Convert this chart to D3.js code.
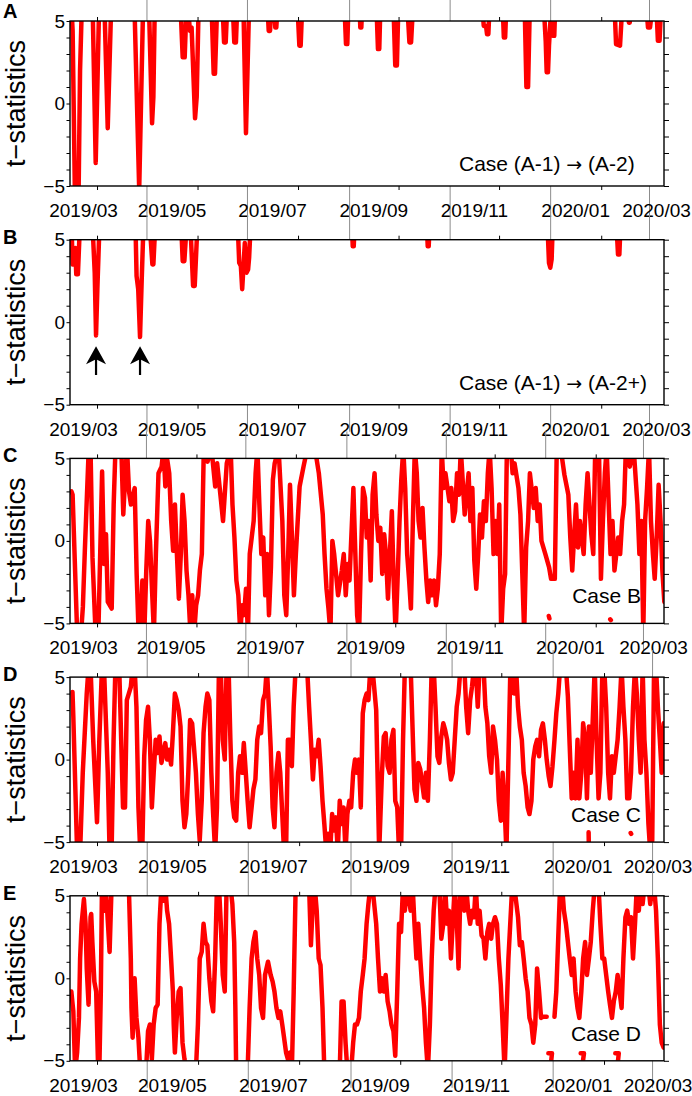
<!DOCTYPE html>
<html>
<head>
<meta charset="utf-8">
<script src="https://d3js.org/d3.v7.min.js"></script>
<style>
  body { margin: 0; background: #fff; }
  svg text { font-family: "Liberation Sans", Arial, Helvetica, sans-serif; fill: #000; }
  .axis text { font-size: 19px; font-family: "Liberation Sans", Arial, sans-serif; }
  .ylabel { font-size: 27px; }
  .letter { font-size: 20px; font-weight: bold; }
  .case { font-size: 21px; }
  .case .arrow { font-family: "DejaVu Sans", sans-serif; font-size: 19px; }
</style>
</head>
<body>
<div id="chart"></div>
<script>
// t-statistics per case, [days after 2019-03-01, t]. Values beyond +-5 run off the frame,
// null breaks the trace (isolated samples near the floor follow a null).
const caseA1A2 = [
  [15.6,5.6],[16.2,4.4],[17.6,-5.6],[19.8,-5.6],[20.7,2.0],[21.7,5.6],
  [28.4,5.6],[30.2,-3.6],[32.2,5.6],
  [35.6,5.6],[37.5,-1.5],[39.5,5.6],
  [53.8,5.6],[56.6,-5.2],[58.9,5.6],
  [62.6,5.6],[64.4,-1.2],[65.2,0.4],[66.0,5.6],
  [81.8,5.6],[83.0,2.8],[84.2,2.8],[85.2,5.6],
  [86.4,5.6],[87.4,4.4],[88.4,4.6],[90.5,-0.9],[91.5,0.4],[92.6,5.6],
  [100.6,5.6],[101.8,1.8],[102.6,1.8],[103.8,5.6],
  [107.3,5.6],[108.1,3.7],[109.1,3.7],[109.9,5.6],
  [113.5,5.6],[114.3,3.7],[115.3,3.7],[116.0,5.6],
  [119.9,5.6],[121.4,-1.8],[123.2,5.6],
  [134.6,5.6],[135.2,4.4],[136.0,4.4],[136.6,5.6],
  [138.6,5.6],[139.2,4.6],[139.8,4.6],[140.4,5.6],
  [152.8,5.6],[153.8,3.5],[154.6,3.5],[155.4,5.6],
  [181.3,5.6],[182.1,3.6],[182.9,3.6],[183.5,5.6],
  [190.4,5.6],[190.8,4.6],[191.4,4.6],[191.8,5.6],
  [200.7,5.6],[201.5,3.3],[202.3,3.3],[202.9,5.6],
  [211.0,5.6],[212.0,2.3],[213.0,2.3],[213.8,5.6],
  [219.5,5.6],[220.6,3.7],[221.6,3.7],[222.6,5.6],
  [265.1,5.6],[265.7,4.7],[267.1,4.7],[267.7,4.2],[268.5,4.2],[269.1,5.6],
  [277.3,5.6],[277.9,4.0],[278.7,4.0],[279.3,5.6],
  [290.6,5.6],[291.6,1.0],[292.6,1.0],[293.6,5.6],
  [302.3,5.6],[303.3,3.8],[303.9,1.9],[304.7,1.9],[305.3,3.5],[306.3,5.2],[307.5,4.1],[308.5,4.1],[309.0,5.6],
  [345.2,5.6],[346.0,3.6],[348.4,3.5],[349.6,5.6],
  [353.3,5.6],[353.8,4.9],[354.3,4.9],[354.6,5.6],
  [364.6,5.6],[365.4,4.6],[366.6,4.6],[367.8,5.6],
  [370.6,5.6],[371.4,3.8],[372.4,3.8],[373.2,5.6]
];

const caseA1A2plus = [
  [15.6,5.6],[16.2,3.5],[17.0,3.5],[17.8,4.5],[18.4,2.9],[19.4,2.9],[20.5,5.6],
  [28.4,5.6],[29.6,3.0],[30.4,-0.8],[31.2,2.0],[32.4,5.6],
  [54.4,5.6],[55.0,2.8],[56.0,2.0],[57.1,-0.9],[58.1,2.5],[59.1,5.6],
  [63.2,5.6],[64.6,3.5],[65.2,3.5],[66.2,5.6],
  [82.2,5.6],[83.0,3.7],[84.0,3.7],[85.2,5.6],
  [87.8,5.6],[89.3,2.2],[90.3,2.2],[91.8,5.6],
  [116.5,5.6],[117.3,3.6],[118.3,3.4],[119.1,2.0],[119.9,3.4],[120.7,4.8],[121.7,3.0],[122.7,3.2],[123.3,3.9],[124.1,5.6],
  [185.8,5.6],[186.2,4.6],[186.8,4.6],[187.2,5.6],
  [231.3,5.6],[231.7,4.6],[232.3,4.6],[232.7,5.6],
  [304.5,5.6],[305.3,3.6],[306.1,3.3],[306.9,3.8],[307.5,5.6],
  [346.4,5.6],[347.2,4.1],[348.0,4.1],[348.6,5.6]
];

const caseB = [
  [15.3,3.0],[16.0,2.8],[18.8,-5.6],[21.2,-5.6],[22.3,-4.0],[23.5,-0.6],[25.9,5.6],[27.0,5.6],
  [28.2,-1.0],[30.1,-5.6],[31.8,-5.6],[34.1,4.2],[35.3,-1.4],[36.5,0.4],[37.6,-3.7],[40.0,-4.1],
  [41.2,2.2],[42.3,5.6],[45.9,5.6],[47.1,1.6],[48.3,4.0],[49.4,5.6],[50.6,3.0],[51.8,2.2],
  [54.1,3.2],[55.3,-2.0],[56.5,-5.6],[57.6,-5.6],[58.8,-2.4],[60.0,-5.6],[61.2,-1.8],[62.4,1.2],
  [63.5,0.0],[64.7,-2.9],[65.9,-5.6],[67.1,-0.8],[68.7,4.1],[70.6,4.5],[71.8,5.6],[72.9,3.3],
  [74.1,4.9],[75.3,4.1],[76.5,1.2],[77.7,-0.6],[78.8,2.2],[80.0,-0.8],[81.2,-3.5],[82.4,-0.8],
  [83.5,2.8],[84.7,1.2],[85.9,-1.8],[87.1,-3.3],[88.3,-5.6],[89.4,-3.3],[90.6,-5.6],[91.8,-3.9],
  [93.0,-3.3],[94.1,-1.8],[95.3,-0.8],[96.5,5.6],[98.8,4.8],[101.2,5.6],[103.5,3.3],[104.7,4.7],
  [107.1,2.4],[108.3,1.2],[110.6,4.7],[113.0,5.6],[114.1,2.2],[115.3,0.2],[116.5,-2.4],[117.7,-3.3],
  [118.9,-5.6],[120.0,-3.9],[121.2,-4.5],[122.4,-2.9],[123.6,-5.6],[124.7,-0.8],[125.9,0.2],[127.1,1.2],
  [128.3,4.1],[129.4,5.6],[130.6,2.2],[131.8,-0.8],[133.0,0.2],[134.2,-3.3],[135.3,-0.8],[136.5,-4.5],
  [137.7,-1.6],[138.9,3.7],[140.0,4.7],[142.4,5.6],[143.6,3.3],[144.7,1.2],[145.9,-3.3],[147.1,-4.5],
  [148.3,-0.8],[149.4,3.4],[150.6,0.2],[151.8,-3.3],[153.0,-0.8],[155.3,3.3],[157.7,4.5],[160.0,5.6],
  [164.7,5.6],[167.1,4.1],[169.5,1.6],[170.6,-0.8],[171.8,-2.9],[173.0,-4.1],[174.2,-5.6],[175.4,0.0],
  [176.5,-0.8],[178.9,-3.3],[181.2,-1.8],[182.4,-0.8],[183.6,-3.3],[184.8,-1.4],[185.9,-2.4],[188.3,3.2],
  [189.5,-0.8],[190.6,-4.5],[191.8,-5.6],[193.0,-0.8],[194.2,3.2],[195.4,2.6],[196.5,0.2],[197.7,1.2],
  [198.9,-2.4],[200.1,2.8],[201.3,4.1],[202.4,1.6],[203.6,0.0],[204.8,0.8],[206.0,-2.0],[207.2,0.4],
  [208.3,-0.8],[209.5,-3.5],[210.7,-0.8],[211.9,1.8],[213.0,-2.4],[214.2,-5.6],[215.4,-2.4],[216.6,1.2],
  [217.7,3.7],[218.9,5.6],[220.1,3.2],[221.3,-0.8],[222.5,-2.4],[223.6,-4.1],[224.8,1.2],[226.0,5.6],
  [227.2,4.1],[228.3,1.2],[229.5,0.2],[230.7,2.0],[231.9,-0.4],[233.1,-2.4],[234.2,-3.7],[235.4,-2.4],
  [236.6,-3.3],[237.8,-2.4],[239.0,-3.9],[240.1,-2.9],[241.3,-0.8],[242.5,5.6],[243.7,3.2],[244.8,4.1],
  [247.2,2.4],[248.4,3.2],[249.5,1.2],[250.7,1.8],[251.9,4.1],[253.1,2.8],[254.2,5.6],[256.6,1.6],
  [259.0,4.1],[260.1,1.2],[261.3,3.2],[262.5,-1.2],[263.7,-2.9],[264.9,-0.8],[266.0,1.6],[267.2,0.2],
  [268.4,2.4],[269.6,1.2],[270.8,4.1],[271.9,5.6],[273.1,3.2],[274.3,-0.8],[275.5,1.2],[276.7,-0.8],
  [277.8,2.2],[279.0,-5.6],[280.2,-2.9],[281.4,-2.0],[282.5,5.6],[284.9,5.6],[286.0,4.1],[287.2,4.7],
  [289.6,3.2],[290.8,1.6],[291.9,-1.8],[293.1,-5.6],[294.3,-0.4],[295.5,1.2],[296.6,4.1],[299.0,2.0],
  [300.2,3.2],[301.4,1.2],[302.6,2.2],[303.7,0.0],[306.1,-0.8],[308.4,-1.6],[309.6,-2.3],[311.9,-2.3],
  [313.1,5.6],[315.5,5.6],[317.8,4.0],[320.2,2.8],[321.4,0.2],[322.6,-1.8],[323.7,0.2],[324.9,2.2],
  [326.1,-0.4],[327.3,1.2],[329.6,-0.8],[330.8,2.2],[332.0,4.1],[334.3,0.4],[335.5,-0.8],[336.7,5.6],
  [339.0,5.6],[340.2,-2.3],[341.4,1.2],[342.6,4.1],[343.7,5.6],[346.1,-0.8],[347.3,1.2],[348.5,-1.8],
  [350.8,0.2],[352.0,-0.8],[353.2,1.2],[354.4,2.2],[355.5,5.6],[357.9,4.5],[360.3,5.6],[362.6,2.2],
  [363.8,-0.8],[365.0,1.2],[366.2,-5.6],[367.3,1.2],[368.5,3.2],[369.7,5.6],[370.9,1.2],[372.1,-0.8],
  [373.2,-2.3],[374.4,0.2],[375.6,3.4],[376.8,1.2],[377.9,-1.8],[379.1,-3.7],
  null, [308.2,-4.55],[308.6,-4.7],
  null, [345.9,-4.75],[346.3,-4.8]
];

const caseC = [
  [16.2,4.1],[16.7,2.6],[19.0,-5.6],[20.8,-5.6],[22.4,-0.8],[24.8,4.0],[25.9,5.6],[27.1,5.6],
  [28.7,1.2],[31.0,-3.8],[32.4,1.2],[34.0,5.6],[35.2,5.6],[37.5,-0.8],[38.6,-5.6],[39.8,-5.6],
  [41.0,1.2],[42.1,5.6],[44.4,5.6],[46.7,-2.9],[47.9,-2.9],[49.0,3.6],[50.2,4.0],[51.4,4.4],
  [52.5,5.6],[53.7,5.6],[54.8,3.2],[56.0,-2.9],[57.1,-5.6],[58.3,-5.6],[59.5,0.2],[60.6,2.4],
  [61.8,3.2],[62.9,1.2],[64.1,-2.9],[65.2,-0.8],[66.4,1.2],[67.6,0.4],[68.7,1.4],[69.9,-0.2],
  [71.0,0.4],[72.2,1.0],[73.3,0.0],[74.5,0.6],[75.7,-0.3],[76.8,1.6],[78.0,4.0],[79.1,3.6],
  [80.3,3.0],[81.4,2.0],[82.6,-2.5],[83.8,-4.1],[84.9,-3.3],[86.1,-0.8],[87.2,2.4],[88.4,2.2],
  [89.5,0.8],[90.7,-0.8],[91.9,-3.3],[93.0,-4.9],[94.2,-2.5],[95.3,1.6],[96.5,3.2],[97.6,4.0],
  [98.8,3.6],[100.0,-0.8],[101.1,-3.3],[102.3,-5.6],[103.4,-2.9],[104.6,5.6],[105.7,5.6],[106.9,1.2],
  [108.1,0.0],[109.2,5.6],[110.4,5.6],[111.5,1.2],[112.7,-2.5],[113.8,-3.5],[115.0,-3.7],[116.2,-0.8],
  [117.3,0.2],[118.5,-0.8],[119.6,1.0],[120.8,-0.8],[121.9,-2.5],[123.1,-4.1],[124.3,-2.9],[125.4,-1.8],
  [126.6,-1.2],[127.7,1.2],[128.9,2.0],[130.0,1.6],[131.2,3.6],[132.4,4.0],[133.5,5.6],[134.7,3.2],
  [135.8,0.8],[137.0,-2.9],[138.1,-4.1],[139.3,-0.8],[140.5,0.4],[141.6,-0.8],[142.8,-3.3],[143.9,-5.6],
  [145.1,-5.6],[146.2,1.2],[147.4,1.2],[148.6,-0.4],[149.7,3.2],[150.9,5.6],[157.8,5.6],[159.0,3.2],
  [160.1,1.2],[161.3,-1.2],[162.4,0.6],[163.6,0.2],[164.8,1.2],[165.9,-0.4],[167.1,-2.5],[168.2,-3.9],
  [169.4,-5.6],[170.5,-4.5],[171.7,-5.6],[172.9,-3.3],[174.0,-4.3],[175.2,-3.5],[176.3,-5.6],[177.5,-2.5],
  [178.6,-3.9],[179.8,-2.9],[181.0,-5.6],[182.1,-3.3],[183.3,-2.5],[184.4,-2.9],[185.6,-0.8],[186.7,0.0],
  [187.9,-0.8],[189.1,0.0],[190.2,-2.9],[191.4,2.8],[192.5,3.6],[193.7,4.0],[194.8,3.6],[196.0,5.6],
  [197.2,5.6],[199.5,3.0],[201.3,-5.6],[202.9,-1.0],[204.1,1.4],[205.2,1.6],[206.4,-0.4],[207.6,-0.8],
  [208.7,1.2],[209.9,1.8],[211.0,-2.5],[212.2,-2.9],[213.3,-5.6],[214.5,-5.6],[215.7,1.2],[216.8,5.6],
  [220.3,5.6],[222.6,-1.8],[223.8,-2.5],[224.9,-0.2],[226.1,-0.6],[227.2,-1.4],[228.4,-2.3],[229.5,-0.8],
  [230.7,-2.5],[231.9,1.2],[233.0,5.6],[234.2,5.6],[235.3,3.2],[236.5,0.2],[237.6,-0.2],[238.8,1.4],
  [240.0,2.2],[241.1,1.8],[242.3,1.2],[243.4,-0.2],[244.6,-1.2],[245.7,-0.8],[246.9,1.2],[248.1,3.2],
  [249.2,4.0],[250.4,5.6],[252.7,5.6],[253.8,3.2],[255.0,1.6],[256.2,3.6],[257.3,4.4],[258.5,5.6],
  [259.6,5.6],[260.8,3.2],[261.9,5.6],[264.3,5.6],[265.4,3.2],[266.6,2.2],[267.7,0.2],[268.9,-0.8],
  [270.0,2.0],[271.2,1.2],[272.4,0.0],[273.5,-2.5],[274.7,-3.7],[275.8,-0.8],[277.0,-2.9],[278.1,-5.6],
  [280.5,5.6],[281.6,5.6],[282.8,4.0],[283.9,5.6],[285.1,3.2],[286.2,2.0],[287.4,1.2],[288.5,-0.8],
  [289.7,-1.6],[290.9,-2.9],[292.0,-3.3],[293.2,-2.5],[294.3,0.0],[295.5,0.8],[296.6,1.2],[297.8,0.2],
  [299.0,1.8],[300.1,2.2],[301.3,1.2],[302.4,0.0],[303.6,-1.0],[304.7,-1.6],[305.9,-0.4],[307.1,1.2],
  [308.2,2.8],[309.4,4.0],[310.5,5.6],[312.8,5.6],[314.0,5.6],[315.2,3.8],[316.3,0.8],[317.5,-2.35],
  [318.6,-0.8],[319.8,-2.35],[321.0,1.2],[322.1,-2.35],[323.3,-0.8],[324.4,2.2],[325.6,1.2],[326.7,-2.35],
  [327.9,2.0],[329.0,-0.8],[331.4,5.6],[332.5,1.2],[333.7,-2.35],[334.8,-0.8],[336.0,5.6],[337.1,5.6],
  [338.3,3.2],[339.5,-0.8],[340.6,-2.35],[341.8,0.2],[342.9,-0.8],[345.2,1.2],[346.4,3.2],[347.6,5.6],
  [348.7,3.2],[349.9,1.2],[351.0,-2.35],[352.2,-2.35],[353.3,-0.8],[354.5,3.2],[355.7,5.6],[356.8,4.0],
  [358.0,1.2],[359.1,-0.8],[360.3,5.6],[361.4,1.2],[362.6,-0.8],[363.8,-3.9],[364.9,-5.6],[366.1,-4.9],
  [367.2,5.6],[368.4,5.6],[369.5,3.2],[370.7,1.2],[371.8,-0.8],[373.0,2.2],
  null, [327.7,-4.4],[327.9,-5.6],
  null, [353.1,-4.45],[353.4,-4.5]
];

const caseD = [
  [15.5,-0.8],[16.7,-2.0],[17.8,-5.6],[19.0,-4.5],[20.1,-2.4],[20.8,1.2],[21.7,3.3],[23.1,4.8],
  [24.1,3.3],[24.8,0.6],[25.9,-1.6],[27.1,3.7],[27.5,3.9],[28.2,2.2],[29.4,-0.2],[30.5,-0.8],
  [31.7,-5.6],[32.4,-5.6],[33.3,-0.8],[34.0,5.6],[35.2,4.1],[36.3,5.6],[37.5,3.5],[38.6,1.6],
  [39.8,5.6],[50.2,5.6],[51.4,1.2],[51.8,-1.8],[52.5,-3.6],[53.7,0.0],[54.8,-2.4],[56.0,-3.6],
  [57.1,-5.6],[60.6,-5.6],[61.8,-3.2],[62.9,-2.8],[64.1,-4.9],[65.2,-2.8],[66.4,-1.8],[67.6,-1.6],
  [68.7,3.3],[69.9,5.6],[71.0,4.7],[72.2,5.6],[73.3,4.1],[74.5,3.3],[75.7,1.2],[76.8,-0.8],
  [77.3,-2.8],[78.0,-4.5],[79.1,-2.4],[80.3,-0.8],[81.4,-0.6],[82.6,-3.9],[83.8,-4.9],[84.9,-5.6],
  [90.7,-5.6],[91.9,-2.8],[93.0,1.2],[94.2,1.6],[95.3,3.3],[96.5,2.2],[97.6,2.0],[98.8,0.0],
  [100.0,-1.4],[101.1,-2.0],[102.3,1.2],[103.4,5.6],[104.6,5.6],[105.7,3.3],[106.9,0.2],[108.1,-0.8],
  [109.2,5.6],[111.5,5.6],[112.7,4.5],[113.8,2.2],[114.5,-1.8],[115.0,-5.6],[121.9,-5.6],[123.1,-1.8],
  [124.3,1.2],[125.4,2.2],[126.6,2.8],[127.7,1.2],[128.9,0.2],[130.0,-1.8],[131.2,-2.4],[132.4,0.2],
  [134.2,1.0],[135.8,0.2],[137.0,-0.2],[138.1,-0.8],[139.3,-1.8],[140.5,-2.4],[141.6,-2.0],[142.8,-2.8],
  [143.9,-3.6],[145.1,-4.5],[146.2,-4.9],[147.4,-4.5],[148.6,-5.6],[149.7,-0.8],[150.9,5.6],[159.0,5.6],
  [160.1,2.0],[161.3,4.7],[162.4,5.6],[163.6,4.1],[164.8,1.2],[165.9,0.8],[167.1,-1.8],[168.2,-5.6],
  [177.5,-5.6],[178.6,-1.4],[179.8,-1.4],[181.0,-3.9],[182.1,-5.6],[184.4,-5.6],[185.6,-3.9],[186.7,-2.8],
  [187.9,-2.8],[189.1,-2.4],[190.2,-0.8],[191.4,0.2],[192.5,1.2],[193.7,3.3],[194.8,4.5],[196.0,5.6],
  [197.2,5.6],[199.5,3.3],[200.6,1.2],[201.8,-0.8],[202.9,0.0],[204.1,-0.8],[205.2,0.2],[206.4,-1.4],
  [207.6,-2.0],[208.7,-2.8],[209.9,-3.2],[211.0,-4.7],[212.2,-0.8],[213.3,3.3],[214.5,2.8],[215.7,5.6],
  [216.8,4.1],[218.0,5.6],[220.3,4.1],[221.5,5.6],[222.6,3.3],[223.8,1.2],[224.9,3.3],[226.1,1.2],
  [227.2,-0.4],[228.4,-1.8],[229.5,-3.9],[230.7,-5.6],[231.9,-2.8],[233.0,1.2],[234.2,4.1],[235.3,5.6],
  [237.6,5.6],[238.8,2.4],[240.0,3.3],[241.1,5.6],[242.3,3.3],[243.4,4.1],[244.6,1.2],[245.7,3.3],
  [246.9,5.6],[248.1,3.7],[249.2,0.6],[250.4,5.6],[252.7,4.1],[253.8,5.6],[255.0,4.1],[256.2,3.3],
  [257.3,4.1],[258.5,3.7],[259.6,5.6],[260.8,3.3],[261.9,4.1],[263.1,2.6],[264.3,2.4],[265.4,1.2],
  [266.6,2.8],[267.7,3.3],[268.9,2.4],[270.0,3.3],[271.2,3.7],[272.4,3.3],[273.5,1.2],[274.7,-0.4],
  [275.8,-2.8],[277.0,-5.6],[279.3,1.2],[281.6,5.6],[282.8,5.6],[285.1,3.7],[286.2,2.0],[287.4,2.2],
  [288.5,1.2],[289.7,0.0],[290.9,-0.8],[292.0,-2.4],[293.2,-2.8],[294.3,-3.9],[295.5,-2.8],[296.6,0.6],
  [297.8,-0.8],[299.0,-2.4],[300.1,-2.33],[302.4,-2.33],
  null,
  [307.1,-2.33],[308.2,-0.8],[310.5,5.6],[311.7,5.6],[312.8,4.1],[314.0,3.3],[315.2,2.2],[316.3,1.2],
  [317.5,0.2],[318.6,1.2],[319.8,-0.8],[321.0,-1.8],[322.1,-2.4],[323.3,-0.8],[324.4,1.2],[325.6,2.2],
  [326.7,0.2],[327.9,1.2],[329.0,2.2],[330.2,4.1],[331.4,5.6],[333.7,5.6],[334.8,3.3],[336.0,1.2],
  [337.1,1.2],[338.3,0.2],[339.5,-0.8],[340.6,-1.6],[341.8,-2.4],[342.9,-1.4],[344.1,-0.8],[345.2,0.2],
  [346.4,-0.8],[347.6,-1.8],[348.7,1.2],[349.9,3.7],[351.0,4.1],[352.2,3.3],[353.3,3.7],[354.5,1.2],
  [355.7,3.3],[356.8,5.6],[358.0,4.1],[359.1,5.6],[360.3,4.5],[361.4,5.6],[363.8,5.6],[364.9,4.5],
  [366.1,5.6],[367.2,5.6],[368.4,4.1],[369.5,1.2],[370.7,-2.8],[371.8,-3.9],[373.0,-4.2],
  null, [303.4,-4.55],[305.6,-4.55],[304.5,-5.6],
  null, [322.9,-4.55],[324.9,-4.55],[323.9,-5.3],
  null, [343.8,-4.55],[345.9,-4.55],[344.8,-5.6]
];

const panelLetters = ['A', 'B', 'C', 'D', 'E'];
// case label: text before the arrow, text after it (null = no arrow)
const caseLabels = [['Case (A-1) ', ' (A-2)'], ['Case (A-1) ', ' (A-2+)'], ['Case B', null], ['Case C', null], ['Case D', null]];
// visible time span of each panel, days after 2019-03-01
const timeSpans = [[14.6, 375.1], [14.6, 375.1], [14.4, 378.9], [14.7, 373.2], [14.7, 373.2]];
const tTicks = [-5, -4, -3, -2, -1, 0, 1, 2, 3, 4, 5];
const tLabels = [-5, 0, 5];
// arrows in panel B: days, and t at tip / tail
const arrowDays = [30.4, 57.1];
const arrowT = [-1.45, -3.2];

const series = [caseA1A2, caseA1A2plus, caseB, caseC, caseD];

const width = 692, height = 1096;
const margin = { left: 70, top: 21 };
const plotW = 594, plotH = 165, panelStep = 218.7;

const day0 = Date.UTC(2019, 2, 1);
const toDate = d => new Date(day0 + d * 864e5);

const svg = d3.select('#chart').append('svg')
    .attr('width', width)
    .attr('height', height);

const defs = svg.append('defs');
const fmtMonth = d3.utcFormat('%Y/%m');

series.forEach((data, i) => {
    const g = svg.append('g')
        .attr('transform', `translate(${margin.left},${margin.top + i * panelStep})`);

    const x = d3.scaleUtc().domain(timeSpans[i].map(toDate)).range([0, plotW]);
    const y = d3.scaleLinear().domain([-5, 5]).range([plotH, 0]);

    defs.append('clipPath').attr('id', `clip${i}`)
        .append('rect').attr('width', plotW).attr('height', plotH);

    // months: labelled (odd) ones get a long grey tick, the others a short one
    const [t0, t1] = x.domain();
    const months = d3.utcMonth.range(d3.utcMonth.floor(t0), t1);
    const inside = months.filter(m => m >= t0);
    const longM = inside.filter(m => m.getUTCMonth() % 2 === 0);
    const shortM = inside.filter(m => m.getUTCMonth() % 2 === 1);

    const tickAxis = (axis, vals, size, color, yPos) => {
        g.append('g')
            .attr('class', 'axis')
            .attr('transform', `translate(0,${yPos})`)
            .call(axis(x).tickValues(vals).tickSize(size).tickFormat(''))
            .call(a => a.select('.domain').remove())
            .call(a => a.selectAll('line').attr('stroke', color));
    };
    tickAxis(d3.axisBottom, shortM, 4, '#000', plotH);
    tickAxis(d3.axisTop, shortM, 4, '#000', 0);
    tickAxis(d3.axisBottom, longM, 27, '#8c8c8c', plotH);
    tickAxis(d3.axisTop, longM, 27, '#8c8c8c', 0);

    // month labels centred on the visible part of their month
    months.filter(m => m.getUTCMonth() % 2 === 0).forEach(m => {
        const a = Math.max(0, x(m));
        const b = Math.min(plotW, x(d3.utcMonth.offset(m, 1)));
        if (b - a < 8) return;
        g.append('text')
            .attr('x', (a + b) / 2)
            .attr('y', plotH + 31)
            .attr('text-anchor', 'middle')
            .style('font-size', '19px')
            .text(fmtMonth(m));
    });

    // y axes
    g.append('g')
        .attr('class', 'axis')
        .call(d3.axisLeft(y).tickValues(tTicks).tickSize(3.5).tickPadding(1.5)
            .tickFormat(d => tLabels.includes(d) ? d3.format('d')(d) : ''))
        .call(a => a.select('.domain').remove());
    g.append('g')
        .attr('class', 'axis')
        .attr('transform', `translate(${plotW},0)`)
        .call(d3.axisRight(y).tickValues(tTicks).tickSize(5).tickFormat(''))
        .call(a => a.select('.domain').remove());

    // the series
    const line = d3.line()
        .defined(d => d !== null)
        .x(d => x(toDate(d[0])))
        .y(d => y(d[1]));

    g.append('path')
        .datum(data)
        .attr('clip-path', `url(#clip${i})`)
        .attr('fill', 'none')
        .attr('stroke', '#ff0000')
        .attr('stroke-width', 4.5)
        .attr('stroke-linejoin', 'round')
        .attr('stroke-linecap', 'round')
        .attr('d', line);

    // frame
    g.append('rect')
        .attr('width', plotW)
        .attr('height', plotH)
        .attr('fill', 'none')
        .attr('stroke', '#000')
        .attr('stroke-width', 1.4);

    g.append('text')
        .attr('class', 'ylabel')
        .attr('transform', `translate(-45,${plotH / 2}) rotate(-90)`)
        .attr('text-anchor', 'middle')
        .text('t\u2212statistics');

    g.append('text')
        .attr('class', 'letter')
        .attr('x', -67)
        .attr('y', i === 0 ? -3 : 4)
        .text(panelLetters[i]);

    const [before, after] = caseLabels[i];
    const label = g.append('text')
        .attr('class', 'case')
        .attr('x', after ? 389 : 571)
        .attr('y', plotH - (after ? 15 : 20))
        .attr('text-anchor', after ? 'start' : 'end');
    label.append('tspan').text(before);
    if (after) {
        label.append('tspan').attr('class', 'arrow').text('\u2192');
        label.append('tspan').text(after);
    }

    if (i === 1) {
        arrowDays.forEach(d => {
            const ax = x(toDate(d)), tip = y(arrowT[0]), tail = y(arrowT[1]);
            g.append('line')
                .attr('x1', ax).attr('x2', ax)
                .attr('y1', tip + 12).attr('y2', tail)
                .attr('stroke', '#000').attr('stroke-width', 2.2);
            g.append('path')
                .attr('d', `M${ax},${tip} L${ax - 10},${tip + 18} L${ax},${tip + 13} L${ax + 10},${tip + 18} Z`)
                .attr('fill', '#000');
        });
    }
});
</script>
</body>
</html>
